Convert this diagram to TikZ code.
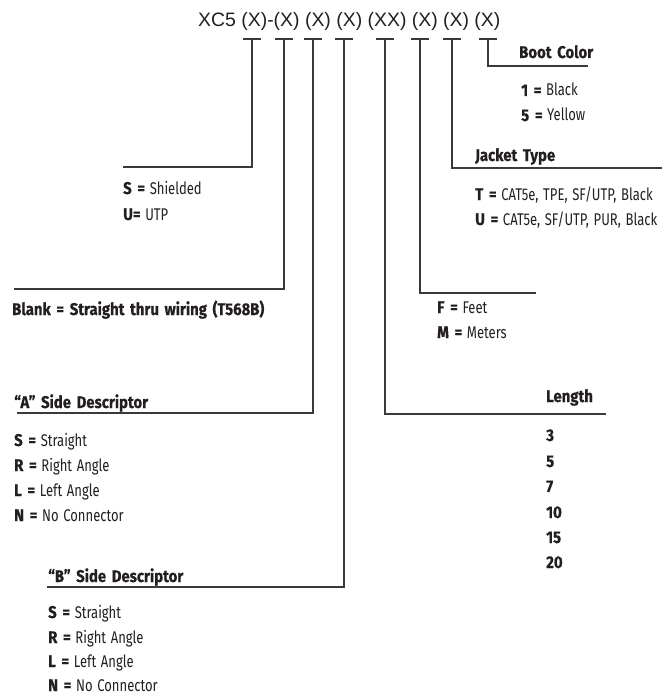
\documentclass[tikz,border=0pt]{standalone}
\usepackage{fontspec}
\setmainfont{Fira Sans}
\newfontfamily\hdrfont{Liberation Sans}
\newfontfamily\regfont[FakeStretch=0.77,WordSpace=1.35]{Fira Sans}
\newfontfamily\bldfont[FakeStretch=0.88,FakeBold=0.6,WordSpace=1.6]{Fira Sans}
\newcommand{\kk}[1]{{\bldfont\bfseries #1}}
\definecolor{ink}{HTML}{231F20}
\definecolor{rule}{HTML}{3A3A3A}
\tikzset{
  lbl/.style={anchor=base west, inner sep=0pt, text=ink, font=\regfont\fontsize{17}{20}\selectfont},
  ttl/.style={anchor=base west, inner sep=0pt, text=ink, font=\bldfont\bfseries\fontsize{17}{20}\selectfont},
  hdr/.style={anchor=base west, inner sep=0pt, text=ink, font=\hdrfont\fontsize{19.5}{22}\selectfont},
  wire/.style={draw=rule, line width=1.2bp},
}
\begin{document}
\begin{tikzpicture}[x=1bp,y=-1bp]
\useasboundingbox (0,0) rectangle (662,696);

% header
\node[hdr] (hdr) at (198,27) {XC5 (X)-(X) (X) (X) (XX) (X) (X) (X)};

% bracket tops
\foreach \n/\x in {1/252,2/284,3/313,4/344,5/385,6/420,7/452,8/488}{
  \coordinate (t\n) at (\x,39);
  \draw[wire] (\x-9,39) -- (\x+9,39);
}

% Boot color
\coordinate (e8) at (588,66);
\draw[wire] (t8) |- (e8);
\node[ttl] (boot) at (519,58) {Boot Color};
\node[lbl] (boot1) at (521,96) {\kk{1 =} Black};
\node[lbl] (boot5) at (521,121) {\kk{5 =} Yellow};

% Jacket type
\coordinate (e7) at (662,168);
\draw[wire] (t7) |- (e7);
\node[ttl] (jack) at (475,161) {Jacket Type};
\node[lbl] (jackT) at (475,200) {\kk{T =} CAT5e, TPE, SF/UTP, Black};
\node[lbl] (jackU) at (475,225) {\kk{U =} CAT5e, SF/UTP, PUR, Black};

% Shielded
\coordinate (e1) at (123,167);
\draw[wire] (t1) |- (e1);
\node[lbl] (shS) at (123,194) {\kk{S =} Shielded};
\node[lbl] (shU) at (123,220) {\kk{U=} UTP};

% Blank
\coordinate (e2) at (14,289);
\draw[wire] (t2) |- (e2);
\node[ttl] (blank) at (12,315) {Blank = Straight thru wiring (T568B)};

% A side
\coordinate (e3) at (17,413);
\draw[wire] (t3) |- (e3);
\node[ttl] (aside) at (14,408) {“A” Side Descriptor};
\node[lbl] (aS) at (14,446) {\kk{S =} Straight};
\node[lbl] (aR) at (14,471) {\kk{R =} Right Angle};
\node[lbl] (aL) at (14,496) {\kk{L =} Left Angle};
\node[lbl] (aN) at (14,521) {\kk{N =} No Connector};

% B side
\coordinate (e4) at (47,587);
\draw[wire] (t4) |- (e4);
\node[ttl] (bside) at (48,582) {“B” Side Descriptor};
\node[lbl] (bS) at (48,618) {\kk{S =} Straight};
\node[lbl] (bR) at (48,643) {\kk{R =} Right Angle};
\node[lbl] (bL) at (48,667) {\kk{L =} Left Angle};
\node[lbl] (bN) at (48,691) {\kk{N =} No Connector};

% Length
\coordinate (e5) at (606,414);
\draw[wire] (t5) |- (e5);
\node[ttl] (len) at (546,402) {Length};
\foreach \v/\y in {3/441,5/467,7/492,10/518,15/543,20/568}{
  \node[ttl] (len\v) at (546,\y) {\v};
}

% Feet / Meters
\coordinate (e6) at (536,293);
\draw[wire] (t6) |- (e6);
\node[lbl] (uF) at (437,313) {\kk{F =} Feet};
\node[lbl] (uM) at (437,338) {\kk{M =} Meters};
\end{tikzpicture}
\end{document}
